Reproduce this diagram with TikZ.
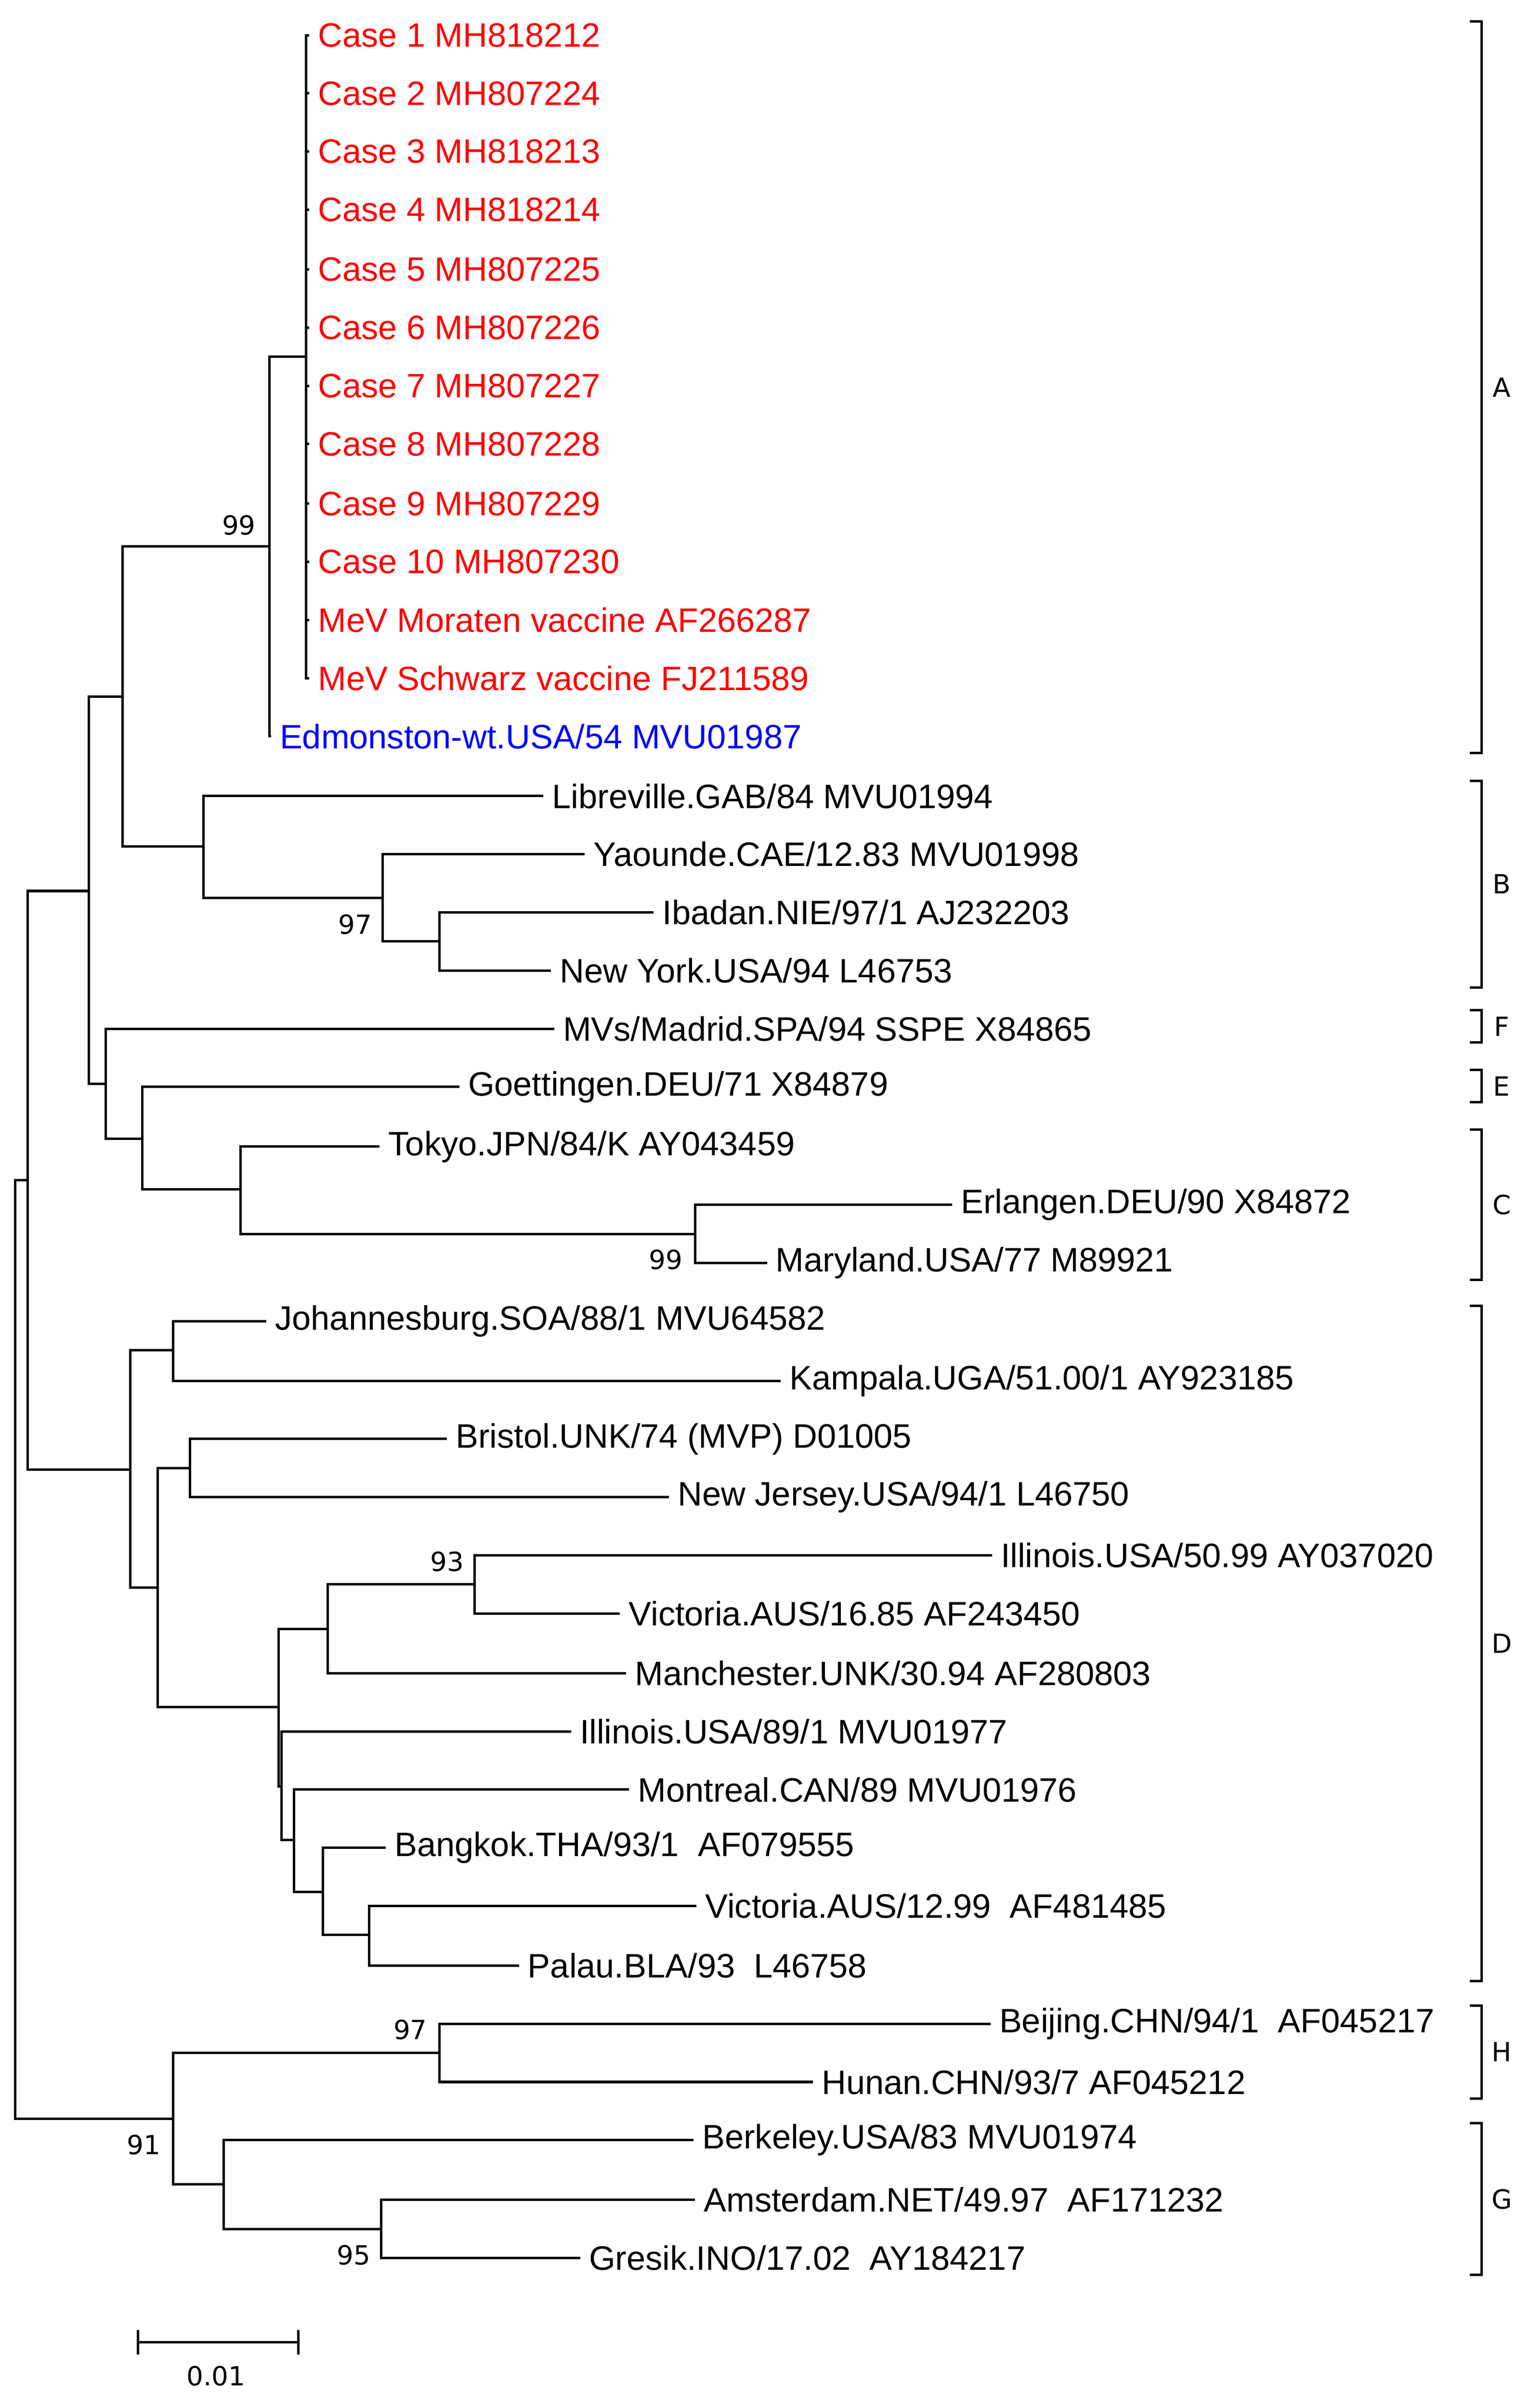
\documentclass[tikz,border=0pt]{standalone}
\usepackage{fontspec}
\setmainfont{Liberation Sans}
\newfontfamily\supfont{DejaVu Sans}
\definecolor{cred}{RGB}{255,0,0}
\definecolor{cblue}{RGB}{0,0,255}
\begin{document}
\begin{tikzpicture}[x=0.02cm,y=-0.02cm,line width=0.9pt,
  leaf/.style={anchor=west,inner sep=0pt,font=\fontsize{12.6}{13}\selectfont},
  rl/.style={leaf,text=cred}, bl/.style={leaf,text=cblue},
  sup/.style={inner sep=0pt,font=\supfont\fontsize{9.8}{10}\selectfont},
  clade/.style={inner sep=0pt,font=\supfont\fontsize{9.8}{10}\selectfont}]
\useasboundingbox (0,0) rectangle (1000,1573);
% leaves
\node[rl] (c1) at (207,23) {Case 1 MH818212};
\node[rl] (c2) at (207,61) {Case 2 MH807224};
\node[rl] (c3) at (207,99) {Case 3 MH818213};
\node[rl] (c4) at (207,137) {Case 4 MH818214};
\node[rl] (c5) at (207,176) {Case 5 MH807225};
\node[rl] (c6) at (207,214) {Case 6 MH807226};
\node[rl] (c7) at (207,252) {Case 7 MH807227};
\node[rl] (c8) at (207,290) {Case 8 MH807228};
\node[rl] (c9) at (207,329) {Case 9 MH807229};
\node[rl] (c10) at (207,367) {Case 10 MH807230};
\node[rl] (c11) at (207,405) {MeV Moraten vaccine AF266287};
\node[rl] (c12) at (207,443) {MeV Schwarz vaccine FJ211589};
\node[bl] (ed) at (182,481) {Edmonston-wt.USA/54 MVU01987};
\node[leaf] (lib) at (360,520) {Libreville.GAB/84 MVU01994};
\node[leaf] (yao) at (387,558) {Yaounde.CAE/12.83 MVU01998};
\node[leaf] (iba) at (432,596) {Ibadan.NIE/97/1 AJ232203};
\node[leaf] (ny) at (365,634) {New York.USA/94 L46753};
\node[leaf] (mad) at (367,672) {MVs/Madrid.SPA/94 SSPE X84865};
\node[leaf] (goe) at (305,710) {Goettingen.DEU/71 X84879};
\node[leaf] (tok) at (253,749) {Tokyo.JPN/84/K AY043459};
\node[leaf] (erl) at (627,787) {Erlangen.DEU/90 X84872};
\node[leaf] (mar) at (506,825) {Maryland.USA/77 M89921};
\node[leaf] (joh) at (179,863) {Johannesburg.SOA/88/1 MVU64582};
\node[leaf] (kam) at (515,902) {Kampala.UGA/51.00/1 AY923185};
\node[leaf] (bri) at (297,940) {Bristol.UNK/74 (MVP) D01005};
\node[leaf] (nj) at (442,978) {New Jersey.USA/94/1 L46750};
\node[leaf] (il5) at (653,1016) {Illinois.USA/50.99 AY037020};
\node[leaf] (vi16) at (410,1054) {Victoria.AUS/16.85 AF243450};
\node[leaf] (man) at (414,1093) {Manchester.UNK/30.94 AF280803};
\node[leaf] (il89) at (378,1131) {Illinois.USA/89/1 MVU01977};
\node[leaf] (mon) at (416,1169) {Montreal.CAN/89 MVU01976};
\node[leaf] (ban) at (257,1207) {Bangkok.THA/93/1 \ AF079555};
\node[leaf] (vi12) at (460,1245) {Victoria.AUS/12.99 \ AF481485};
\node[leaf] (pal) at (344,1284) {Palau.BLA/93 \ L46758};
\node[leaf] (bei) at (652,1322) {Beijing.CHN/94/1 \ AF045217};
\node[leaf] (hun) at (536,1360) {Hunan.CHN/93/7 AF045212};
\node[leaf] (ber) at (458,1398) {Berkeley.USA/83 MVU01974};
\node[leaf] (ams) at (459,1437) {Amsterdam.NET/49.97 \ AF171232};
\node[leaf] (gre) at (384,1475) {Gresik.INO/17.02 \ AY184217};
% internal nodes
\coordinate (nCase) at (200,233);
\coordinate (nA) at (176,357);
\coordinate (nYI) at (287,615);
\coordinate (nY) at (250,586.5);
\coordinate (nB) at (133,553);
\coordinate (nAB) at (80,455);
\coordinate (nEM) at (454,806);
\coordinate (nTC) at (157,777);
\coordinate (nGE) at (93,744);
\coordinate (nF) at (69,708);
\coordinate (nABF) at (58,582);
\coordinate (nJK) at (113,882);
\coordinate (nBN) at (124,959);
\coordinate (n310) at (310,1035);
\coordinate (n214) at (214,1064);
\coordinate (n241) at (241,1264);
\coordinate (n211) at (211,1236);
\coordinate (n192) at (192,1202);
\coordinate (n184) at (184,1167);
\coordinate (n182) at (182,1115);
\coordinate (n103) at (103,1037);
\coordinate (nD) at (85,960);
\coordinate (nAD) at (18,771);
\coordinate (nH) at (287,1341);
\coordinate (nAG) at (249,1456);
\coordinate (nG) at (146,1427);
\coordinate (nHG) at (113,1384);
\coordinate (root) at (10,1078);
% leaf edges
\foreach \p/\l in {nCase/c1,nCase/c2,nCase/c3,nCase/c4,nCase/c5,nCase/c6,nCase/c7,nCase/c8,nCase/c9,nCase/c10,nCase/c11,nCase/c12,
  nA/ed,nB/lib,nY/yao,nYI/iba,nYI/ny,nF/mad,nGE/goe,nTC/tok,nEM/erl,nEM/mar,
  nJK/joh,nJK/kam,nBN/bri,nBN/nj,n310/il5,n310/vi16,n214/man,n184/il89,n192/mon,n211/ban,n241/vi12,n241/pal,
  nH/bei,nH/hun,nG/ber,nAG/ams,nAG/gre}
  \draw (\p) |- ([xshift=-0.1cm]\l.west);
% internal edges
\foreach \p/\c in {nA/nCase,nAB/nA,nAB/nB,nB/nY,nY/nYI,nABF/nAB,nABF/nF,nF/nGE,nGE/nTC,nTC/nEM,
  nAD/nABF,nAD/nD,nD/nJK,nD/n103,n103/nBN,n103/n182,n182/n214,n182/n184,n214/n310,n184/n192,n192/n211,n211/n241,
  root/nAD,root/nHG,nHG/nH,nHG/nG,nG/nAG}
  \draw (\p) |- (\c);
% support values
\node[sup] (s1) at (156,343) {99};
\node[sup] (s2) at (232,604) {97};
\node[sup] (s3) at (435,823) {99};
\node[sup] (s4) at (292,1020) {93};
\node[sup] (s5) at (268,1326) {97};
\node[sup] (s6) at (94,1401) {91};
\node[sup] (s7) at (231,1473) {95};
% clade brackets
\foreach \a/\b/\n/\t in {14/492/A/A,510/645/B/B,660/681/F/F,699/720/E/E,738/836/C/C,853/1294/D/D,1310/1371/H/H,1387/1486/G/G}{
  \draw (960,\a) -- (968,\a) -- (968,\b) -- (960,\b);
  \node[clade] (k\n) at (981,{(\a+\b)/2}) {\t};
}
% scale bar
\coordinate (sb1) at (90,1530);
\coordinate (sb2) at (195,1530);
\draw (sb1) -- (sb2);
\draw ([yshift=0.16cm]sb1) -- ([yshift=-0.16cm]sb1);
\draw ([yshift=0.16cm]sb2) -- ([yshift=-0.16cm]sb2);
\node[sup] (sbl) at (141,1552) {0.01};
\end{tikzpicture}
\end{document}
